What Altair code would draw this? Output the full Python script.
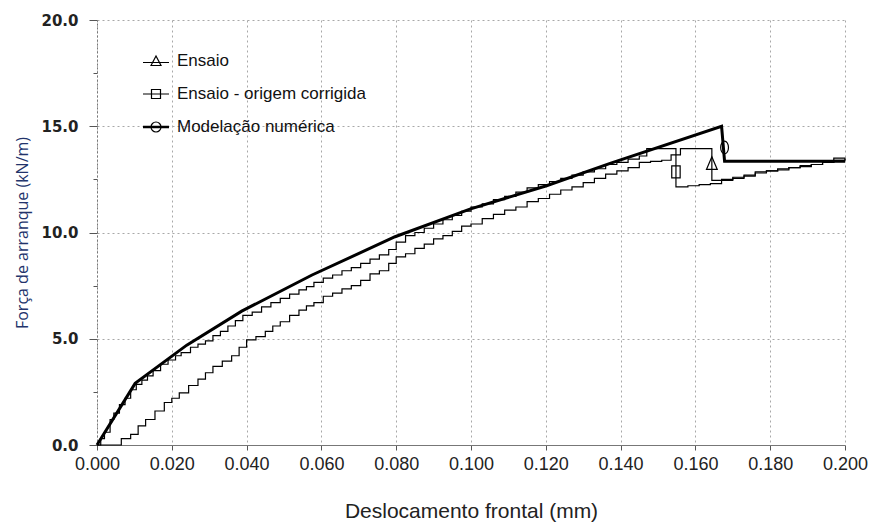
import altair as alt
import pandas as pd

# Ensaio (raw test record, front displacement in mm / pull-out force in kN/m)
ensaio_x = [0.000, 0.006, 0.0065, 0.009, 0.011, 0.013, 0.0155, 0.018, 0.020, 0.022,
            0.0245, 0.027, 0.029, 0.031, 0.0335, 0.036, 0.038, 0.040, 0.0425, 0.045,
            0.047, 0.049, 0.0515, 0.054, 0.056, 0.058, 0.0605, 0.063, 0.0655, 0.068,
            0.0705, 0.073, 0.0755, 0.078, 0.080, 0.0825, 0.085, 0.0875, 0.090, 0.0925,
            0.095, 0.0975, 0.100, 0.103, 0.106, 0.109, 0.112, 0.115, 0.118, 0.121,
            0.124, 0.127, 0.130, 0.133, 0.136, 0.139, 0.142, 0.145, 0.148, 0.151,
            0.1535, 0.156, 0.1644, 0.167, 0.170, 0.173, 0.176, 0.179, 0.182, 0.185,
            0.188, 0.191, 0.194, 0.197, 0.200]
ensaio_y = [0.0, 0.0, 0.3, 0.5, 0.9, 1.2, 1.6, 2.0, 2.2, 2.45,
            2.8, 3.1, 3.4, 3.7, 3.95, 4.2, 4.6, 4.95, 5.1, 5.35,
            5.6, 5.8, 6.1, 6.35, 6.55, 6.7, 7.0, 7.15, 7.35, 7.5,
            7.75, 8.05, 8.2, 8.55, 8.85, 9.0, 9.25, 9.45, 9.7, 9.85,
            10.05, 10.3, 10.4, 10.65, 10.85, 11.05, 11.2, 11.45, 11.6, 11.8,
            12.0, 12.15, 12.35, 12.55, 12.75, 12.9, 13.05, 13.3, 13.35, 13.4,
            13.65, 13.95, 12.45, 12.5, 12.6, 12.7, 12.85, 12.9, 13.0, 13.05,
            13.1, 13.2, 13.3, 13.4, 13.45]

# Ensaio - origem corrigida (same record with the origin shifted)
corr_x = [0.000, 0.001, 0.002, 0.0035, 0.0045, 0.006, 0.0075, 0.009, 0.0105, 0.012,
          0.0135, 0.015, 0.017, 0.019, 0.021, 0.0225, 0.025, 0.027, 0.029, 0.031,
          0.033, 0.035, 0.037, 0.039, 0.0415, 0.044, 0.0465, 0.049, 0.0515, 0.054,
          0.056, 0.058, 0.0605, 0.063, 0.0655, 0.068, 0.0705, 0.073, 0.0755, 0.078,
          0.080, 0.0825, 0.085, 0.0875, 0.090, 0.0925, 0.095, 0.0975, 0.100, 0.103,
          0.106, 0.109, 0.112, 0.115, 0.118, 0.121, 0.124, 0.127, 0.130, 0.133,
          0.136, 0.139, 0.142, 0.145, 0.147, 0.1548, 0.158, 0.161, 0.164, 0.167,
          0.170, 0.173, 0.176, 0.179, 0.182, 0.185, 0.188, 0.191, 0.194, 0.197,
          0.200]
corr_y = [0.0, 0.3, 0.6, 1.2, 1.5, 1.9, 2.2, 2.6, 2.85, 3.05,
          3.25, 3.5, 3.8, 4.0, 4.2, 4.35, 4.6, 4.75, 4.9, 5.15,
          5.35, 5.6, 5.85, 6.1, 6.25, 6.5, 6.7, 6.9, 7.1, 7.3,
          7.45, 7.65, 7.85, 8.0, 8.2, 8.35, 8.55, 8.75, 8.95, 9.2,
          9.55, 9.85, 10.0, 10.2, 10.4, 10.6, 10.8, 11.0, 11.2, 11.35,
          11.55, 11.7, 11.9, 12.1, 12.25, 12.4, 12.55, 12.7, 12.85, 13.0,
          13.2, 13.3, 13.45, 13.6, 13.95, 12.15, 12.2, 12.25, 12.3, 12.45,
          12.55, 12.65, 12.8, 12.9, 12.95, 13.05, 13.15, 13.2, 13.3, 13.5,
          13.4]

# Modelação numérica (piecewise-linear model response)
modelo_x = [0.000, 0.0102, 0.024, 0.0387, 0.0575, 0.0797, 0.0997, 0.1202, 0.1372,
            0.1670, 0.1678, 0.2000]
modelo_y = [0.0, 2.9, 4.7, 6.3, 8.0, 9.8, 11.1, 12.2, 13.25, 15.0, 13.35, 13.35]

series_names = ["Ensaio", "Ensaio - origem corrigida", "Modelação numérica"]
# marker placed on each curve's drop
marker_x = [0.1644, 0.1548, 0.1678]
marker_y = [13.25, 12.85, 14.0]

thin_df = pd.concat([
    pd.DataFrame({"x": ensaio_x, "y": ensaio_y, "serie": series_names[0]}),
    pd.DataFrame({"x": corr_x, "y": corr_y, "serie": series_names[1]}),
])
model_df = pd.DataFrame({"x": modelo_x, "y": modelo_y, "serie": series_names[2]})
marker_df = pd.DataFrame({"x": marker_x, "y": marker_y, "serie": series_names})

# symbol paths: markers on the curves, and line+marker glyphs for the key
marker_paths = [
    "M-0.9,1L0,-1.1L0.9,1Z",
    "M-0.7,-1H0.7V1H-0.7Z",
    "M-0.65,0A0.65,1.05 0 1,0 0.65,0A0.65,1.05 0 1,0 -0.65,0Z",
]
legend_paths = [
    "M-1.3,0.15H1.3M-0.5,0.45L0,-0.5L0.5,0.45Z",
    "M-1.3,0H1.3M-0.45,-0.45H0.45V0.45H-0.45Z",
    # doubled stroke gives the heavier model line
    "M-1.3,-0.07H1.3M-1.3,0.07H1.3M-0.5,0A0.5,0.5 0 1,0 0.5,0A0.5,0.5 0 1,0 -0.5,0Z",
]

major5 = "datum.value % 5 === 0"

X = alt.X(
    "x:Q",
    scale=alt.Scale(domain=[0, 0.2], nice=False, zero=False),
    axis=alt.Axis(
        values=[0, 0.02, 0.04, 0.06, 0.08, 0.1, 0.12, 0.14, 0.16, 0.18, 0.2],
        format=".3f",
        title="Deslocamento frontal (mm)",
        titleFont="Liberation Sans",
        titleFontSize=21,
        titleFontWeight="normal",
        titleColor="#222222",
        titlePadding=27,
        labelFont="Liberation Sans",
        labelFontSize=18,
        labelColor="#222222",
        labelPadding=5,
        labelFlush=False,
        tickSize=5,
        tickColor="#555555",
        domainColor="#777777",
        grid=True,
        gridColor="#a8a8a8",
        gridDash=[2, 3],
        gridWidth=1,
    ),
)
Y = alt.Y(
    "y:Q",
    scale=alt.Scale(domain=[0, 20], nice=False),
    axis=alt.Axis(
        values=[0, 2.5, 5, 7.5, 10, 12.5, 15, 17.5, 20],
        labelExpr=f"{major5} ? format(datum.value, '.1f') : ''",
        title="Força de arranque (kN/m)",
        titleFont="Open Sans",
        titleFontSize=16,
        titleFontWeight="normal",
        titleColor="#22336b",
        titlePadding=10,
        labelFont="DejaVu Sans",
        labelFontWeight="bold",
        labelFontSize=15,
        labelColor="#222222",
        labelPadding=11,
        labelFlush=False,
        tickSize={"condition": {"test": major5, "value": 8}, "value": 4},
        tickColor="#555555",
        domainColor="#777777",
        domainDash=[2, 2],
        grid=True,
        gridColor="#a8a8a8",
        gridDash=[2, 3],
        gridOpacity={"condition": {"test": major5, "value": 1}, "value": 0},
    ),
)

thin = alt.Chart(thin_df).mark_line(
    interpolate="step-after", color="black", strokeWidth=1.2
).encode(x=X, y=Y, detail="serie:N")

thick = alt.Chart(model_df).mark_line(
    color="black", strokeWidth=3, strokeJoin="miter"
).encode(x=X, y=Y)

markers = alt.Chart(marker_df).mark_point(
    filled=False, color="black", strokeWidth=1.2, size=144, opacity=1
).encode(
    x=X,
    y=Y,
    shape=alt.Shape("serie:N", scale=alt.Scale(domain=series_names, range=marker_paths), legend=None),
)

key = alt.Chart(marker_df).mark_point(
    filled=False, color="black", opacity=0, strokeWidth=1.2
).encode(
    x=X,
    y=Y,
    shape=alt.Shape(
        "serie:N",
        scale=alt.Scale(domain=series_names, range=legend_paths),
        legend=alt.Legend(
            orient="none",
            legendX=48,
            legendY=30,
            title=None,
            symbolSize=400,
            symbolOpacity=1,
            symbolFillColor="transparent",
            symbolStrokeColor="black",
            symbolStrokeWidth=1.2,
            labelFont="Liberation Sans",
            labelFontSize=17,
            labelColor="#111111",
            labelOffset=10,
            labelLimit=400,
            rowPadding=14,
            padding=0,
        ),
    ),
)

chart = (
    alt.layer(thin, thick, markers, key)
    .resolve_scale(shape="independent")
    .properties(
        width=748,
        height=425,
        autosize=alt.AutoSizeParams(type="none"),
        padding={"left": 97, "top": 20, "right": 26, "bottom": 78},
        background="white",
    )
    .configure_view(stroke=None)
)

chart.save("out.html", embed_options={"renderer": "svg", "actions": False})
